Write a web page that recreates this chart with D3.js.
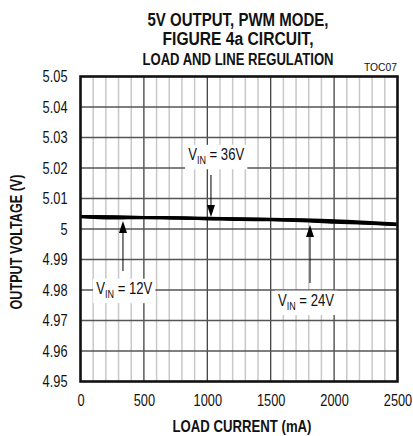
<!DOCTYPE html>
<html><head><meta charset="utf-8">
<script src="https://cdn.jsdelivr.net/npm/d3@7"></script>
<style>
html,body{margin:0;padding:0;background:#fff;}
text{font-family:"Liberation Sans",Arial,sans-serif;fill:#111;}
</style></head>
<body><svg id="c" width="413" height="436"></svg>
<script>
const titleLines = ["5V OUTPUT, PWM MODE,", "FIGURE 4a CIRCUIT,", "LOAD AND LINE REGULATION"];
const loadCurrent = [0, 250, 500, 750, 1000, 1250, 1500, 1750, 2000, 2250, 2500];
const vin36 = [5.0041, 5.0040, 5.0038, 5.0037, 5.0035, 5.0034, 5.0032, 5.0030, 5.0027, 5.0022, 5.0016];
const vin12 = [5.0041, 5.0036, 5.0038, 5.0036, 5.0034, 5.0033, 5.0031, 5.0029, 5.0025, 5.0020, 5.0015];
const vin24 = [5.0040, 5.0039, 5.0037, 5.0036, 5.0034, 5.0031, 5.0030, 5.0027, 5.0022, 5.0019, 5.0014];
const xTicks = [0, 500, 1000, 1500, 2000, 2500];
const yTicks = [4.95, 4.96, 4.97, 4.98, 4.99, 5, 5.01, 5.02, 5.03, 5.04, 5.05];
const annotations = [
  {label: "36V", x: 1029, textX: 1070, yText: 5.0226, tipY: 5.0039, tailY: 5.0177, dir: "down"},
  {label: "12V", x: 335, textX: 345, yText: 4.9787, tipY: 5.0026, tailY: 4.9862, dir: "up"},
  {label: "24V", x: 1810, textX: 1778, yText: 4.9748, tipY: 5.0013, tailY: 4.9823, dir: "up"}
];

const svg = d3.select("#c");
const L = 80.5, R = 397.5, T = 76.5, B = 381.5;
const x = d3.scaleLinear().domain([0, 2500]).range([L, R]);
const y = d3.scaleLinear().domain([4.95, 5.05]).range([B, T]);

function squeeze(sel, k) {
  sel.each(function() {
    const w = this.getComputedTextLength();
    d3.select(this).attr("textLength", w * k).attr("lengthAdjust", "spacingAndGlyphs");
  });
}

// title
const tw = [181, 151, 191];
const tsz = [17.5, 17.5, 16];
const tyy = [26, 45, 65];
titleLines.forEach((t, i) => {
  svg.append("text").attr("x", 238).attr("y", tyy[i]).attr("text-anchor", "middle")
    .attr("font-weight", "bold").attr("font-size", tsz[i])
    .attr("textLength", tw[i]).attr("lengthAdjust", "spacingAndGlyphs").text(t);
});
svg.append("text").attr("x", 397).attr("y", 71).attr("text-anchor", "end")
  .attr("font-size", 10.5).attr("textLength", 33).attr("lengthAdjust", "spacingAndGlyphs").text("TOC07");

// grid
const g = svg.append("g");
const minor = d3.range(0, 2501, 100).filter(v => v % 500 !== 0);
g.selectAll(".mn").data(minor).join("line")
  .attr("x1", d => x(d)).attr("x2", d => x(d)).attr("y1", T).attr("y2", B)
  .attr("stroke", "#c8c8c8").attr("stroke-width", 1.5);
g.selectAll(".mj").data(xTicks.slice(1, -1)).join("line")
  .attr("x1", d => x(d)).attr("x2", d => x(d)).attr("y1", T).attr("y2", B)
  .attr("stroke", "#333").attr("stroke-width", 1.2);
g.selectAll(".hz").data(yTicks.slice(1, -1)).join("line")
  .attr("x1", L).attr("x2", R).attr("y1", d => y(d)).attr("y2", d => y(d))
  .attr("stroke", "#555").attr("stroke-width", 1.5);

// axes labels via d3 axes
const xAxis = d3.axisBottom(x).tickValues(xTicks).tickSize(0).tickPadding(13).tickFormat(d3.format("d"));
const xa = svg.append("g").attr("transform", `translate(0,${B})`).call(xAxis);
xa.select(".domain").remove();
xa.selectAll("text").attr("font-size", 16).attr("font-family", null).attr("fill", "#111").call(squeeze, 0.8);

const yAxis = d3.axisLeft(y).tickValues(yTicks).tickSize(0).tickPadding(13).tickFormat(d => d === 5 ? "5" : d3.format(".2f")(d));
const ya = svg.append("g").attr("transform", `translate(${L},0)`).call(yAxis);
ya.select(".domain").remove();
ya.selectAll("text").attr("font-size", 16).attr("font-family", null).attr("fill", "#111").call(squeeze, 0.8);

svg.append("text").attr("x", 242).attr("y", 432).attr("text-anchor", "middle")
  .attr("font-weight", "bold").attr("font-size", 16.5).attr("textLength", 139)
  .attr("lengthAdjust", "spacingAndGlyphs").text("LOAD CURRENT (mA)");
svg.append("text").attr("transform", "translate(22,242) rotate(-90)").attr("text-anchor", "middle")
  .attr("font-weight", "bold").attr("font-size", 16.5).attr("textLength", 135)
  .attr("lengthAdjust", "spacingAndGlyphs").text("OUTPUT VOLTAGE (V)");

// curves
const line = d3.line().x((d, i) => x(loadCurrent[i])).y(d => y(d)).curve(d3.curveMonotoneX);
[vin36, vin12, vin24].forEach(s => {
  svg.append("path").attr("d", line(s)).attr("fill", "none")
    .attr("stroke", "#000").attr("stroke-width", 3);
});

// annotations
annotations.forEach(a => {
  const ax = x(a.x);
  const tip = y(a.tipY), tail = y(a.tailY);
  svg.append("line").attr("x1", ax).attr("x2", ax).attr("y1", tail).attr("y2", a.dir === "up" ? tip + 8 : tip - 8)
    .attr("stroke", "#000").attr("stroke-width", 1);
  const s = a.dir === "up" ? 1 : -1;
  svg.append("path").attr("d", `M${ax},${tip} L${ax - 4},${tip + s * 12} L${ax + 4},${tip + s * 12} Z`).attr("fill", "#000");
  const ty = y(a.yText);
  const grp = svg.append("g");
  const bg = grp.append("rect").attr("fill", "#fff");
  const t = grp.append("text").attr("x", x(a.textX)).attr("y", ty).attr("text-anchor", "middle").attr("font-size", 16);
  t.append("tspan").text("V");
  t.append("tspan").attr("dy", 4).attr("font-size", 11).text("IN");
  t.append("tspan").attr("dy", -4).text("\u00a0= " + a.label);
  t.attr("transform", `translate(${x(a.textX)},0) scale(0.82,1) translate(${-x(a.textX)},0)`);
  const bb = t.node().getBBox();
  const cx = x(a.textX), hw = bb.width * 0.82 / 2;
  bg.attr("x", cx - hw - 3).attr("y", bb.y - 1).attr("width", hw * 2 + 6).attr("height", bb.height + 4);
});

// frame
svg.append("rect").attr("x", L).attr("y", T).attr("width", R - L).attr("height", B - T)
  .attr("fill", "none").attr("stroke", "#111").attr("stroke-width", 2.6);
</script></body></html>
